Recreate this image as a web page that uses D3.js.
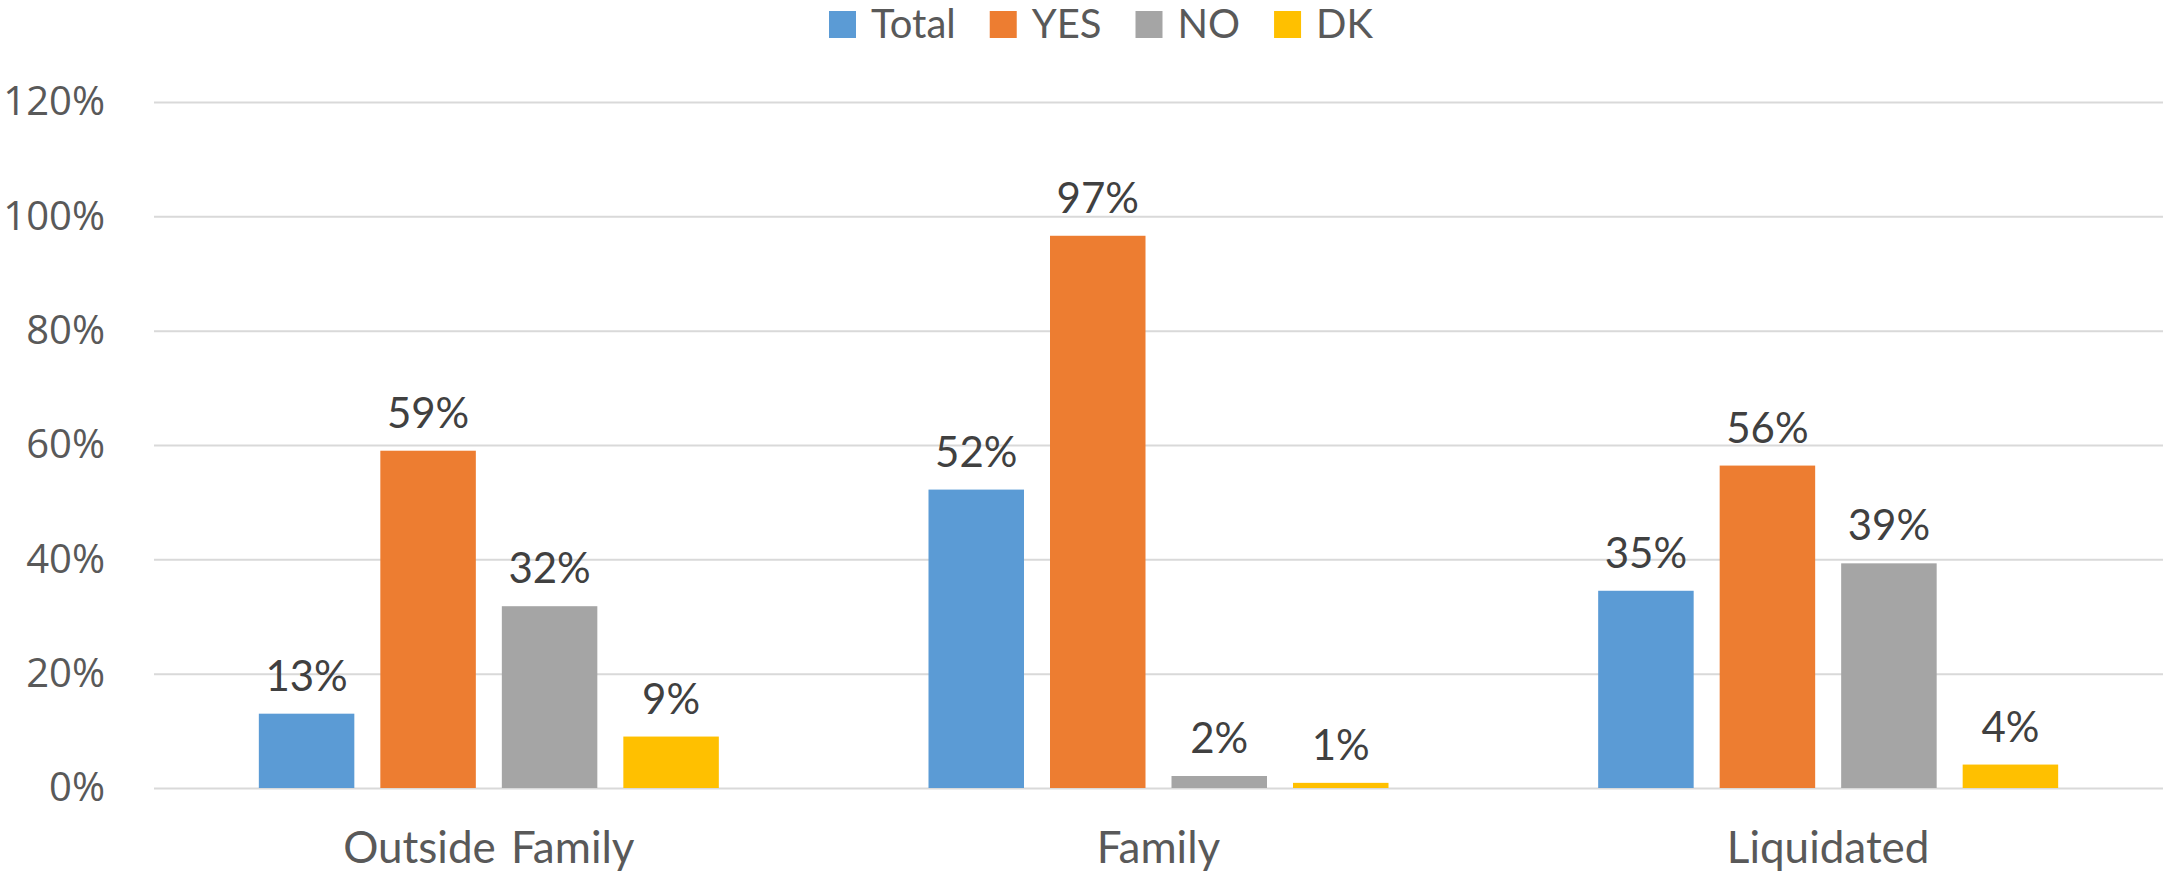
<!DOCTYPE html>
<html>
<head>
<meta charset="utf-8">
<script src="https://cdn.jsdelivr.net/npm/d3@7"></script>
<style>
  body { margin: 0; background: #fff; }
  text { font-family: Lato, "Open Sans", sans-serif; }
</style>
</head>
<body>
<svg id="canvas" width="2165" height="875"></svg>
<script>
let categories = ['Outside Family', 'Family', 'Liquidated']
let series = ['Total', 'YES', 'NO', 'DK']
let colors = ['#5B9BD5', '#ED7D31', '#A5A5A5', '#FFC000']
// one array per series, in category order
let totalValues = [0.13, 0.522, 0.345]
let yesValues = [0.59, 0.966, 0.564]
let noValues = [0.318, 0.021, 0.393]
let dkValues = [0.09, 0.009, 0.041]
let yTicks = [0, 0.2, 0.4, 0.6, 0.8, 1.0, 1.2]

let values = [totalValues, yesValues, noValues, dkValues]

let canvas = d3.select('#canvas')

let plotLeft = 154, plotRight = 2163, plotTop = 102, plotBottom = 788

let y = d3.scaleLinear().domain([0, 1.2]).range([plotBottom, plotTop])
let x0 = d3.scaleBand().domain(categories).range([plotLeft, plotRight]).padding(0)
let half = 230
let x1 = d3.scaleBand().domain(series)
    .range([x0.bandwidth() / 2 - half, x0.bandwidth() / 2 + half])
    .paddingInner(0.214).paddingOuter(0)

// gridlines + y labels
let yAxis = canvas.append('g')
    .attr('transform', 'translate(' + plotLeft + ',0)')
    .call(d3.axisLeft(y).tickValues(yTicks).tickFormat(d3.format('.0%'))
        .tickSize(-(plotRight - plotLeft)).tickPadding(49))
yAxis.select('.domain').remove()
yAxis.selectAll('line').attr('stroke', '#d9d9d9').attr('stroke-width', 2)
yAxis.selectAll('text')
    .attr('fill', '#595959')
    .style('font-family', '"Open Sans", sans-serif')
    .style('font-size', '40px')

// bars
let groups = canvas.selectAll('g.cat')
    .data(categories)
    .enter()
    .append('g')
    .attr('class', 'cat')
    .attr('transform', (c) => 'translate(' + x0(c) + ',0)')

groups.selectAll('rect')
    .data((c, ci) => series.map((s, si) => ({ s: s, si: si, v: values[si][ci] })))
    .enter()
    .append('rect')
    .attr('x', (d) => x1(d.s))
    .attr('width', x1.bandwidth())
    .attr('y', (d) => y(d.v))
    .attr('height', (d) => plotBottom - y(d.v))
    .attr('fill', (d) => colors[d.si])

groups.selectAll('text.lbl')
    .data((c, ci) => series.map((s, si) => ({ s: s, si: si, v: values[si][ci] })))
    .enter()
    .append('text')
    .attr('class', 'lbl')
    .attr('x', (d) => x1(d.s) + x1.bandwidth() / 2)
    .attr('y', (d) => y(d.v) - 23)
    .attr('text-anchor', 'middle')
    .attr('fill', '#404040')
    .style('font-size', '42px')
    .text((d) => Math.round(d.v * 100) + '%')

// category labels
canvas.selectAll('text.catlbl')
    .data(categories)
    .enter()
    .append('text')
    .attr('class', 'catlbl')
    .attr('x', (c) => x0(c) + x0.bandwidth() / 2)
    .attr('y', 863)
    .attr('text-anchor', 'middle')
    .attr('fill', '#595959')
    .style('font-size', '44px')
    .style('word-spacing', '4px')
    .text((c) => c)

// legend, items placed left to right
let legend = canvas.append('g')
let lx = 829
series.forEach((s, i) => {
    legend.append('rect')
        .attr('x', lx).attr('y', 11)
        .attr('width', 27).attr('height', 27)
        .attr('fill', colors[i])
    let t = legend.append('text')
        .attr('x', lx + 42).attr('y', 38)
        .attr('fill', '#595959')
        .style('font-size', '40px')
        .text(s)
    lx = lx + 42 + t.node().getComputedTextLength() + 34
})
</script>
</body>
</html>
